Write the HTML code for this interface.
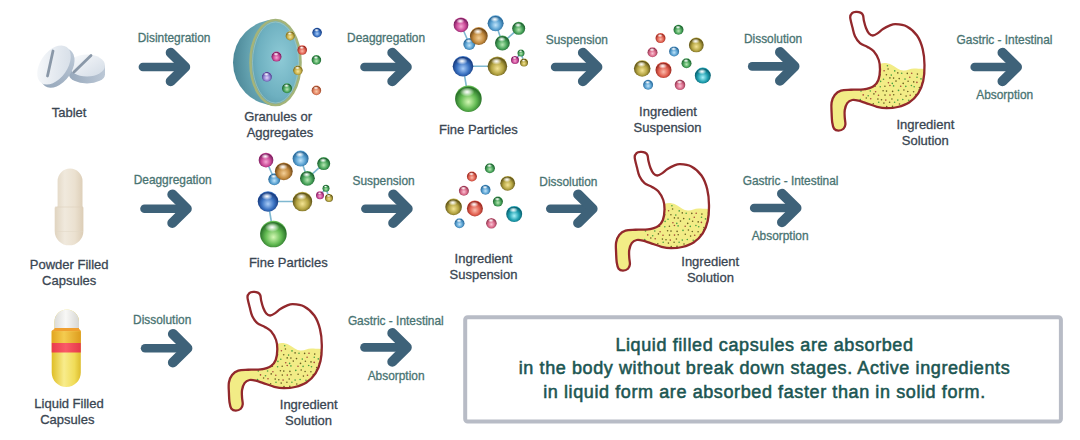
<!DOCTYPE html>
<html><head><meta charset="utf-8"><style>
html,body{margin:0;padding:0;background:#fff;width:1080px;height:440px;overflow:hidden}
svg{display:block}
text{font-family:"Liberation Sans",sans-serif}
.al{fill:#497472;stroke:#497472;stroke-width:0.3px;text-anchor:middle}
.lb{fill:#3a4652;stroke:#3a4652;stroke-width:0.3px;text-anchor:middle}
.bx{fill:#1c5652;stroke:#1c5652;stroke-width:0.55px;text-anchor:middle;font-size:18px;letter-spacing:0.6px}
</style></head><body>
<svg width="1080" height="440" viewBox="0 0 1080 440">
<defs>
<radialGradient id="g_mag" cx="0.5" cy="0.58" r="0.55" fx="0.5" fy="0.62"><stop offset="0" stop-color="#f4a8d4"/><stop offset="0.55" stop-color="#cc4a98"/><stop offset="0.92" stop-color="#7a2060"/><stop offset="1" stop-color="#cc4a98"/></radialGradient><radialGradient id="g_org" cx="0.5" cy="0.58" r="0.55" fx="0.5" fy="0.62"><stop offset="0" stop-color="#f4d098"/><stop offset="0.55" stop-color="#c48c40"/><stop offset="0.92" stop-color="#704818"/><stop offset="1" stop-color="#c48c40"/></radialGradient><radialGradient id="g_lbl" cx="0.5" cy="0.58" r="0.55" fx="0.5" fy="0.62"><stop offset="0" stop-color="#c0e4fa"/><stop offset="0.55" stop-color="#5aa2d2"/><stop offset="0.92" stop-color="#2a6898"/><stop offset="1" stop-color="#5aa2d2"/></radialGradient><radialGradient id="g_grn" cx="0.5" cy="0.58" r="0.55" fx="0.5" fy="0.62"><stop offset="0" stop-color="#b8e8b4"/><stop offset="0.55" stop-color="#48a45a"/><stop offset="0.92" stop-color="#1e6030"/><stop offset="1" stop-color="#48a45a"/></radialGradient><radialGradient id="g_oli" cx="0.5" cy="0.58" r="0.55" fx="0.5" fy="0.62"><stop offset="0" stop-color="#f4e494"/><stop offset="0.55" stop-color="#b4a442"/><stop offset="0.92" stop-color="#605418"/><stop offset="1" stop-color="#b4a442"/></radialGradient><radialGradient id="g_blu" cx="0.5" cy="0.58" r="0.55" fx="0.5" fy="0.62"><stop offset="0" stop-color="#a8ccf8"/><stop offset="0.55" stop-color="#3a72c2"/><stop offset="0.92" stop-color="#183c80"/><stop offset="1" stop-color="#3a72c2"/></radialGradient><radialGradient id="g_gbg" cx="0.5" cy="0.58" r="0.55" fx="0.5" fy="0.62"><stop offset="0" stop-color="#d4f8b4"/><stop offset="0.55" stop-color="#62ba52"/><stop offset="0.92" stop-color="#287028"/><stop offset="1" stop-color="#62ba52"/></radialGradient><radialGradient id="g_pnk" cx="0.5" cy="0.58" r="0.55" fx="0.5" fy="0.62"><stop offset="0" stop-color="#fac4d4"/><stop offset="0.55" stop-color="#da6a8a"/><stop offset="0.92" stop-color="#903850"/><stop offset="1" stop-color="#da6a8a"/></radialGradient><radialGradient id="g_red" cx="0.5" cy="0.58" r="0.55" fx="0.5" fy="0.62"><stop offset="0" stop-color="#fabcac"/><stop offset="0.55" stop-color="#e26252"/><stop offset="0.92" stop-color="#982820"/><stop offset="1" stop-color="#e26252"/></radialGradient><radialGradient id="g_tea" cx="0.5" cy="0.58" r="0.55" fx="0.5" fy="0.62"><stop offset="0" stop-color="#a8f2fa"/><stop offset="0.55" stop-color="#22a2b2"/><stop offset="0.92" stop-color="#086070"/><stop offset="1" stop-color="#22a2b2"/></radialGradient><radialGradient id="g_pur" cx="0.5" cy="0.58" r="0.55" fx="0.5" fy="0.62"><stop offset="0" stop-color="#e4d4fa"/><stop offset="0.55" stop-color="#9282d2"/><stop offset="0.92" stop-color="#504090"/><stop offset="1" stop-color="#9282d2"/></radialGradient><radialGradient id="g_ylw" cx="0.5" cy="0.58" r="0.55" fx="0.5" fy="0.62"><stop offset="0" stop-color="#f8e8a0"/><stop offset="0.55" stop-color="#c8b048"/><stop offset="0.92" stop-color="#7a6a20"/><stop offset="1" stop-color="#c8b048"/></radialGradient><radialGradient id="g_org2" cx="0.5" cy="0.58" r="0.55" fx="0.5" fy="0.62"><stop offset="0" stop-color="#facaa8"/><stop offset="0.55" stop-color="#e28262"/><stop offset="0.92" stop-color="#984828"/><stop offset="1" stop-color="#e28262"/></radialGradient><radialGradient id="hl" cx="0.5" cy="0.5" r="0.5"><stop offset="0" stop-color="#fff" stop-opacity="1"/><stop offset="0.35" stop-color="#fff" stop-opacity="0.7"/><stop offset="1" stop-color="#fff" stop-opacity="0"/></radialGradient>
<clipPath id="stclip"><path d="M19.20,5.20 C19.12,2.82 20.03,2.08 21.00,1.20 C21.97,0.32 23.58,-0.00 25.00,-0.10 C26.42,-0.20 28.33,0.05 29.50,0.60 C30.67,1.15 31.43,1.83 32.00,3.20 C32.57,4.57 32.40,6.67 32.90,8.80 C33.40,10.93 34.15,13.88 35.00,16.00 C35.85,18.12 36.87,20.25 38.00,21.50 C39.13,22.75 40.38,23.52 41.80,23.50 C43.22,23.48 44.80,22.48 46.50,21.40 C48.20,20.32 50.00,18.30 52.00,17.00 C54.00,15.70 56.42,14.42 58.50,13.60 C60.58,12.78 61.62,11.97 64.50,12.10 C67.38,12.23 72.22,12.50 75.80,14.40 C79.38,16.30 83.35,19.72 86.00,23.50 C88.65,27.28 90.45,32.18 91.70,37.10 C92.95,42.02 93.42,47.70 93.50,53.00 C93.58,58.30 93.25,64.17 92.20,68.90 C91.15,73.63 89.55,77.80 87.20,81.40 C84.85,85.00 81.52,88.23 78.10,90.50 C74.68,92.77 70.48,94.05 66.70,95.00 C62.92,95.95 58.85,96.23 55.40,96.20 C51.95,96.17 49.40,95.65 46.00,94.80 C42.60,93.95 38.08,92.13 35.00,91.10 C31.92,90.07 29.79,89.12 27.50,88.60 C25.21,88.08 23.12,87.58 21.25,88.00 C19.38,88.42 17.50,89.43 16.25,91.10 C15.00,92.77 14.17,95.60 13.75,98.00 C13.33,100.40 13.64,103.10 13.75,105.50 C13.86,107.90 14.61,110.53 14.40,112.40 C14.19,114.28 13.65,115.72 12.50,116.75 C11.35,117.78 9.07,118.60 7.50,118.60 C5.93,118.60 4.14,118.10 3.10,116.75 C2.06,115.40 1.67,113.21 1.25,110.50 C0.83,107.79 0.71,103.83 0.60,100.50 C0.49,97.17 0.07,93.42 0.60,90.50 C1.12,87.58 2.18,84.98 3.75,83.00 C5.32,81.02 7.29,79.47 10.00,78.60 C12.71,77.72 16.25,77.95 20.00,77.75 C23.75,77.55 28.75,77.98 32.50,77.40 C36.25,76.82 40.02,75.82 42.50,74.25 C44.98,72.68 46.32,70.79 47.40,68.00 C48.48,65.21 48.94,60.83 49.00,57.50 C49.06,54.17 48.79,51.04 47.75,48.00 C46.71,44.96 44.62,41.43 42.75,39.25 C40.88,37.07 38.79,36.26 36.50,34.90 C34.21,33.54 31.08,32.88 29.00,31.10 C26.92,29.33 25.25,26.85 24.00,24.25 C22.75,21.65 22.30,18.68 21.50,15.50 C20.70,12.32 19.28,7.58 19.20,5.20Z"/></clipPath>
<radialGradient id="domeg" cx="0.85" cy="0.45" r="0.95"><stop offset="0" stop-color="#8cc2cc"/><stop offset="0.55" stop-color="#62a0ae"/><stop offset="1" stop-color="#447f90"/></radialGradient>
<radialGradient id="faceg" cx="0.6" cy="0.45" r="0.65"><stop offset="0" stop-color="#8ecad6"/><stop offset="0.7" stop-color="#6eb0c0"/><stop offset="1" stop-color="#5a9aac"/></radialGradient>
<linearGradient id="tabface" x1="0" y1="0" x2="1" y2="1"><stop offset="0" stop-color="#fbfcfd"/><stop offset="0.5" stop-color="#e6ebf1"/><stop offset="1" stop-color="#d2dbe5"/></linearGradient><linearGradient id="tabband" x1="0" y1="0" x2="1" y2="0"><stop offset="0" stop-color="#98a9bc"/><stop offset="1" stop-color="#bcc8d6"/></linearGradient><linearGradient id="tabg" x1="0" y1="0" x2="1" y2="1"><stop offset="0" stop-color="#f4f6fa"/><stop offset="1" stop-color="#cdd6e2"/></linearGradient>
<linearGradient id="capg" x1="0" y1="0" x2="1" y2="0"><stop offset="0" stop-color="#e0d4c0"/><stop offset="0.35" stop-color="#f0e9dd"/><stop offset="0.7" stop-color="#ebe1d0"/><stop offset="1" stop-color="#dccdb6"/></linearGradient>
<linearGradient id="lqg" x1="0" y1="0" x2="1" y2="0"><stop offset="0" stop-color="#dcb818"/><stop offset="0.4" stop-color="#f8ec8c"/><stop offset="0.7" stop-color="#f0dc58"/><stop offset="1" stop-color="#d0a810"/></linearGradient><linearGradient id="lqor" x1="0" y1="0" x2="1" y2="0"><stop offset="0" stop-color="#e0a018"/><stop offset="0.4" stop-color="#f4cc50"/><stop offset="1" stop-color="#d89010"/></linearGradient><linearGradient id="lqred" x1="0" y1="0" x2="1" y2="0"><stop offset="0" stop-color="#e83848"/><stop offset="0.45" stop-color="#fa5a68"/><stop offset="1" stop-color="#e03040"/></linearGradient>
<linearGradient id="lqtop" x1="0" y1="0" x2="1" y2="0"><stop offset="0" stop-color="#d0d0cc"/><stop offset="0.45" stop-color="#f8f8f6"/><stop offset="1" stop-color="#c8c8c4"/></linearGradient>
<g id="stom"><path d="M19.20,5.20 C19.12,2.82 20.03,2.08 21.00,1.20 C21.97,0.32 23.58,-0.00 25.00,-0.10 C26.42,-0.20 28.33,0.05 29.50,0.60 C30.67,1.15 31.43,1.83 32.00,3.20 C32.57,4.57 32.40,6.67 32.90,8.80 C33.40,10.93 34.15,13.88 35.00,16.00 C35.85,18.12 36.87,20.25 38.00,21.50 C39.13,22.75 40.38,23.52 41.80,23.50 C43.22,23.48 44.80,22.48 46.50,21.40 C48.20,20.32 50.00,18.30 52.00,17.00 C54.00,15.70 56.42,14.42 58.50,13.60 C60.58,12.78 61.62,11.97 64.50,12.10 C67.38,12.23 72.22,12.50 75.80,14.40 C79.38,16.30 83.35,19.72 86.00,23.50 C88.65,27.28 90.45,32.18 91.70,37.10 C92.95,42.02 93.42,47.70 93.50,53.00 C93.58,58.30 93.25,64.17 92.20,68.90 C91.15,73.63 89.55,77.80 87.20,81.40 C84.85,85.00 81.52,88.23 78.10,90.50 C74.68,92.77 70.48,94.05 66.70,95.00 C62.92,95.95 58.85,96.23 55.40,96.20 C51.95,96.17 49.40,95.65 46.00,94.80 C42.60,93.95 38.08,92.13 35.00,91.10 C31.92,90.07 29.79,89.12 27.50,88.60 C25.21,88.08 23.12,87.58 21.25,88.00 C19.38,88.42 17.50,89.43 16.25,91.10 C15.00,92.77 14.17,95.60 13.75,98.00 C13.33,100.40 13.64,103.10 13.75,105.50 C13.86,107.90 14.61,110.53 14.40,112.40 C14.19,114.28 13.65,115.72 12.50,116.75 C11.35,117.78 9.07,118.60 7.50,118.60 C5.93,118.60 4.14,118.10 3.10,116.75 C2.06,115.40 1.67,113.21 1.25,110.50 C0.83,107.79 0.71,103.83 0.60,100.50 C0.49,97.17 0.07,93.42 0.60,90.50 C1.12,87.58 2.18,84.98 3.75,83.00 C5.32,81.02 7.29,79.47 10.00,78.60 C12.71,77.72 16.25,77.95 20.00,77.75 C23.75,77.55 28.75,77.98 32.50,77.40 C36.25,76.82 40.02,75.82 42.50,74.25 C44.98,72.68 46.32,70.79 47.40,68.00 C48.48,65.21 48.94,60.83 49.00,57.50 C49.06,54.17 48.79,51.04 47.75,48.00 C46.71,44.96 44.62,41.43 42.75,39.25 C40.88,37.07 38.79,36.26 36.50,34.90 C34.21,33.54 31.08,32.88 29.00,31.10 C26.92,29.33 25.25,26.85 24.00,24.25 C22.75,21.65 22.30,18.68 21.50,15.50 C20.70,12.32 19.28,7.58 19.20,5.20Z" fill="#fff"/><g clip-path="url(#stclip)"><path d="M-5,52 L49,52 C52,50.5 56,50.5 60,52.5 C65,55 68,58.5 72.5,58.5 C77,58.5 79,56.5 83,56.5 C87,56.5 90,57 100,57 L100,130 L-5,130 Z" fill="#f2ec86"/><circle cx="29.9" cy="53.6" r="0.8" fill="#48a040"/><circle cx="35.1" cy="54.4" r="0.8" fill="#6a6020"/><circle cx="39.5" cy="53.5" r="0.8" fill="#a84838"/><circle cx="56.4" cy="53.7" r="0.8" fill="#48a040"/><circle cx="32.3" cy="57.8" r="0.8" fill="#6a6020"/><circle cx="38.4" cy="57.3" r="0.8" fill="#6a6020"/><circle cx="43.0" cy="56.6" r="0.8" fill="#48a040"/><circle cx="49.0" cy="57.5" r="0.8" fill="#6a6020"/><circle cx="53.1" cy="58.8" r="0.8" fill="#a84838"/><circle cx="57.1" cy="57.0" r="0.8" fill="#6a6020"/><circle cx="63.7" cy="58.9" r="0.8" fill="#48a040"/><circle cx="30.9" cy="61.1" r="0.8" fill="#48a040"/><circle cx="34.3" cy="61.9" r="0.8" fill="#a84838"/><circle cx="41.2" cy="61.7" r="0.8" fill="#48a040"/><circle cx="44.4" cy="61.7" r="0.8" fill="#6a6020"/><circle cx="49.3" cy="62.8" r="0.8" fill="#48a040"/><circle cx="55.4" cy="62.8" r="0.8" fill="#6a6020"/><circle cx="60.3" cy="63.1" r="0.8" fill="#48a040"/><circle cx="66.8" cy="60.9" r="0.8" fill="#6a6020"/><circle cx="70.7" cy="61.3" r="0.8" fill="#48a040"/><circle cx="76.3" cy="61.4" r="0.8" fill="#6a6020"/><circle cx="80.7" cy="61.2" r="0.8" fill="#a84838"/><circle cx="86.4" cy="62.1" r="0.8" fill="#6a6020"/><circle cx="92.8" cy="61.0" r="0.8" fill="#48a040"/><circle cx="32.6" cy="66.3" r="0.8" fill="#48a040"/><circle cx="36.8" cy="65.3" r="0.8" fill="#6a6020"/><circle cx="44.0" cy="65.5" r="0.8" fill="#6a6020"/><circle cx="47.2" cy="66.4" r="0.8" fill="#48a040"/><circle cx="52.5" cy="67.2" r="0.8" fill="#48a040"/><circle cx="58.9" cy="65.9" r="0.8" fill="#6a6020"/><circle cx="62.6" cy="66.1" r="0.8" fill="#6a6020"/><circle cx="68.2" cy="66.6" r="0.8" fill="#6a6020"/><circle cx="74.0" cy="67.1" r="0.8" fill="#48a040"/><circle cx="78.8" cy="65.3" r="0.8" fill="#a84838"/><circle cx="86.0" cy="65.2" r="0.8" fill="#48a040"/><circle cx="90.0" cy="66.9" r="0.8" fill="#48a040"/><circle cx="28.7" cy="69.6" r="0.8" fill="#6a6020"/><circle cx="35.9" cy="69.3" r="0.8" fill="#48a040"/><circle cx="40.2" cy="69.2" r="0.8" fill="#6a6020"/><circle cx="44.9" cy="70.4" r="0.8" fill="#6a6020"/><circle cx="49.6" cy="69.4" r="0.8" fill="#48a040"/><circle cx="57.4" cy="70.7" r="0.8" fill="#a84838"/><circle cx="61.3" cy="71.4" r="0.8" fill="#48a040"/><circle cx="65.0" cy="69.1" r="0.8" fill="#6a6020"/><circle cx="72.2" cy="71.4" r="0.8" fill="#6a6020"/><circle cx="77.1" cy="69.3" r="0.8" fill="#6a6020"/><circle cx="82.7" cy="69.9" r="0.8" fill="#6a6020"/><circle cx="85.9" cy="70.4" r="0.8" fill="#a84838"/><circle cx="91.0" cy="71.3" r="0.8" fill="#a84838"/><circle cx="33.2" cy="75.2" r="0.8" fill="#6a6020"/><circle cx="37.4" cy="74.9" r="0.8" fill="#6a6020"/><circle cx="44.1" cy="74.3" r="0.8" fill="#6a6020"/><circle cx="49.3" cy="74.7" r="0.8" fill="#48a040"/><circle cx="53.9" cy="74.2" r="0.8" fill="#6a6020"/><circle cx="58.9" cy="73.5" r="0.8" fill="#a84838"/><circle cx="62.6" cy="73.9" r="0.8" fill="#48a040"/><circle cx="69.7" cy="74.2" r="0.8" fill="#a84838"/><circle cx="74.8" cy="74.4" r="0.8" fill="#48a040"/><circle cx="80.4" cy="73.5" r="0.8" fill="#48a040"/><circle cx="83.2" cy="74.7" r="0.8" fill="#48a040"/><circle cx="88.4" cy="75.6" r="0.8" fill="#6a6020"/><circle cx="30.0" cy="79.0" r="0.8" fill="#48a040"/><circle cx="34.5" cy="77.5" r="0.8" fill="#6a6020"/><circle cx="39.3" cy="79.0" r="0.8" fill="#48a040"/><circle cx="44.6" cy="79.7" r="0.8" fill="#a84838"/><circle cx="52.1" cy="78.7" r="0.8" fill="#6a6020"/><circle cx="55.5" cy="79.1" r="0.8" fill="#6a6020"/><circle cx="61.6" cy="79.4" r="0.8" fill="#6a6020"/><circle cx="67.5" cy="78.4" r="0.8" fill="#48a040"/><circle cx="72.9" cy="78.0" r="0.8" fill="#6a6020"/><circle cx="76.8" cy="79.5" r="0.8" fill="#6a6020"/><circle cx="82.6" cy="79.8" r="0.8" fill="#6a6020"/><circle cx="88.2" cy="77.8" r="0.8" fill="#48a040"/><circle cx="91.7" cy="78.0" r="0.8" fill="#48a040"/><circle cx="32.2" cy="82.9" r="0.8" fill="#a84838"/><circle cx="37.2" cy="83.7" r="0.8" fill="#48a040"/><circle cx="42.9" cy="81.9" r="0.8" fill="#6a6020"/><circle cx="47.5" cy="83.2" r="0.8" fill="#a84838"/><circle cx="54.0" cy="83.1" r="0.8" fill="#6a6020"/><circle cx="59.0" cy="83.1" r="0.8" fill="#a84838"/><circle cx="62.7" cy="82.8" r="0.8" fill="#6a6020"/><circle cx="69.8" cy="82.3" r="0.8" fill="#6a6020"/><circle cx="75.1" cy="84.1" r="0.8" fill="#6a6020"/><circle cx="79.2" cy="83.2" r="0.8" fill="#a84838"/><circle cx="85.0" cy="82.6" r="0.8" fill="#6a6020"/><circle cx="90.4" cy="82.2" r="0.8" fill="#48a040"/><circle cx="29.3" cy="87.6" r="0.8" fill="#48a040"/><circle cx="35.3" cy="86.0" r="0.8" fill="#6a6020"/><circle cx="39.7" cy="86.7" r="0.8" fill="#a84838"/><circle cx="46.9" cy="87.1" r="0.8" fill="#6a6020"/><circle cx="50.5" cy="87.8" r="0.8" fill="#6a6020"/><circle cx="54.8" cy="88.1" r="0.8" fill="#a84838"/><circle cx="60.9" cy="87.0" r="0.8" fill="#6a6020"/><circle cx="66.8" cy="88.1" r="0.8" fill="#48a040"/><circle cx="71.8" cy="87.5" r="0.8" fill="#48a040"/><circle cx="77.7" cy="88.2" r="0.8" fill="#48a040"/><circle cx="81.5" cy="88.3" r="0.8" fill="#6a6020"/><circle cx="87.9" cy="87.9" r="0.8" fill="#a84838"/><circle cx="93.7" cy="86.2" r="0.8" fill="#6a6020"/><circle cx="33.8" cy="92.5" r="0.8" fill="#6a6020"/><circle cx="37.9" cy="92.0" r="0.8" fill="#6a6020"/><circle cx="42.3" cy="91.8" r="0.8" fill="#6a6020"/><circle cx="47.7" cy="90.3" r="0.8" fill="#48a040"/><circle cx="52.9" cy="91.1" r="0.8" fill="#6a6020"/><circle cx="58.6" cy="90.2" r="0.8" fill="#6a6020"/><circle cx="63.6" cy="90.2" r="0.8" fill="#48a040"/><circle cx="68.5" cy="92.0" r="0.8" fill="#6a6020"/><circle cx="74.1" cy="92.5" r="0.8" fill="#a84838"/><circle cx="79.5" cy="91.7" r="0.8" fill="#48a040"/><circle cx="85.9" cy="91.3" r="0.8" fill="#a84838"/><circle cx="88.6" cy="90.6" r="0.8" fill="#48a040"/><circle cx="30.2" cy="96.3" r="0.8" fill="#48a040"/><circle cx="35.6" cy="95.6" r="0.8" fill="#48a040"/><circle cx="39.7" cy="95.9" r="0.8" fill="#48a040"/><circle cx="44.7" cy="96.3" r="0.8" fill="#48a040"/><circle cx="50.9" cy="95.7" r="0.8" fill="#6a6020"/><circle cx="55.7" cy="94.6" r="0.8" fill="#6a6020"/><circle cx="61.5" cy="94.4" r="0.8" fill="#6a6020"/><circle cx="66.4" cy="95.3" r="0.8" fill="#48a040"/><circle cx="70.5" cy="94.5" r="0.8" fill="#6a6020"/><circle cx="75.5" cy="95.6" r="0.8" fill="#48a040"/><circle cx="83.3" cy="96.2" r="0.8" fill="#48a040"/><circle cx="86.5" cy="95.4" r="0.8" fill="#6a6020"/><circle cx="91.9" cy="96.5" r="0.8" fill="#48a040"/><circle cx="32.7" cy="98.8" r="0.8" fill="#48a040"/><circle cx="38.2" cy="100.7" r="0.8" fill="#6a6020"/><circle cx="43.6" cy="100.8" r="0.8" fill="#6a6020"/><circle cx="47.3" cy="99.0" r="0.8" fill="#a84838"/><circle cx="52.8" cy="100.2" r="0.8" fill="#6a6020"/><circle cx="59.0" cy="98.8" r="0.8" fill="#a84838"/><circle cx="64.0" cy="100.5" r="0.8" fill="#48a040"/><circle cx="68.3" cy="99.0" r="0.8" fill="#48a040"/><circle cx="75.3" cy="98.6" r="0.8" fill="#a84838"/><circle cx="79.1" cy="99.8" r="0.8" fill="#6a6020"/><circle cx="84.7" cy="100.6" r="0.8" fill="#48a040"/><circle cx="90.2" cy="99.8" r="0.8" fill="#48a040"/></g><path d="M19.20,5.20 C19.12,2.82 20.03,2.08 21.00,1.20 C21.97,0.32 23.58,-0.00 25.00,-0.10 C26.42,-0.20 28.33,0.05 29.50,0.60 C30.67,1.15 31.43,1.83 32.00,3.20 C32.57,4.57 32.40,6.67 32.90,8.80 C33.40,10.93 34.15,13.88 35.00,16.00 C35.85,18.12 36.87,20.25 38.00,21.50 C39.13,22.75 40.38,23.52 41.80,23.50 C43.22,23.48 44.80,22.48 46.50,21.40 C48.20,20.32 50.00,18.30 52.00,17.00 C54.00,15.70 56.42,14.42 58.50,13.60 C60.58,12.78 61.62,11.97 64.50,12.10 C67.38,12.23 72.22,12.50 75.80,14.40 C79.38,16.30 83.35,19.72 86.00,23.50 C88.65,27.28 90.45,32.18 91.70,37.10 C92.95,42.02 93.42,47.70 93.50,53.00 C93.58,58.30 93.25,64.17 92.20,68.90 C91.15,73.63 89.55,77.80 87.20,81.40 C84.85,85.00 81.52,88.23 78.10,90.50 C74.68,92.77 70.48,94.05 66.70,95.00 C62.92,95.95 58.85,96.23 55.40,96.20 C51.95,96.17 49.40,95.65 46.00,94.80 C42.60,93.95 38.08,92.13 35.00,91.10 C31.92,90.07 29.79,89.12 27.50,88.60 C25.21,88.08 23.12,87.58 21.25,88.00 C19.38,88.42 17.50,89.43 16.25,91.10 C15.00,92.77 14.17,95.60 13.75,98.00 C13.33,100.40 13.64,103.10 13.75,105.50 C13.86,107.90 14.61,110.53 14.40,112.40 C14.19,114.28 13.65,115.72 12.50,116.75 C11.35,117.78 9.07,118.60 7.50,118.60 C5.93,118.60 4.14,118.10 3.10,116.75 C2.06,115.40 1.67,113.21 1.25,110.50 C0.83,107.79 0.71,103.83 0.60,100.50 C0.49,97.17 0.07,93.42 0.60,90.50 C1.12,87.58 2.18,84.98 3.75,83.00 C5.32,81.02 7.29,79.47 10.00,78.60 C12.71,77.72 16.25,77.95 20.00,77.75 C23.75,77.55 28.75,77.98 32.50,77.40 C36.25,76.82 40.02,75.82 42.50,74.25 C44.98,72.68 46.32,70.79 47.40,68.00 C48.48,65.21 48.94,60.83 49.00,57.50 C49.06,54.17 48.79,51.04 47.75,48.00 C46.71,44.96 44.62,41.43 42.75,39.25 C40.88,37.07 38.79,36.26 36.50,34.90 C34.21,33.54 31.08,32.88 29.00,31.10 C26.92,29.33 25.25,26.85 24.00,24.25 C22.75,21.65 22.30,18.68 21.50,15.50 C20.70,12.32 19.28,7.58 19.20,5.20Z" fill="none" stroke="#92282c" stroke-width="2.3" stroke-linejoin="round"/></g>
<filter id="fat2" x="-5%" y="-20%" width="110%" height="140%"><feGaussianBlur stdDeviation="0.45"/><feComponentTransfer><feFuncA type="linear" slope="1.9"/></feComponentTransfer></filter><filter id="fat" x="-5%" y="-20%" width="110%" height="140%"><feGaussianBlur stdDeviation="0.3"/><feComponentTransfer><feFuncA type="linear" slope="1.5"/></feComponentTransfer></filter>
</defs>
<g><path d="M69,65.5 L69,74.5 A18,9 0 0 0 105,74.5 L105,65.5 Z" fill="url(#tabband)"/><ellipse cx="87" cy="65.5" rx="18" ry="11" fill="url(#tabface)"/><line x1="91" y1="55.5" x2="74" y2="72" stroke="#8a98a8" stroke-width="2.8" stroke-linecap="round"/><ellipse cx="57.5" cy="68" rx="22" ry="14" transform="rotate(-55 57.5 68)" fill="url(#tabband)"/><ellipse cx="54" cy="65" rx="22" ry="13.5" transform="rotate(-55 54 65)" fill="url(#tabface)"/><line x1="53" y1="51" x2="47.5" y2="76" stroke="#8a98a8" stroke-width="2.8" stroke-linecap="round"/></g>
<g><path d="M276,19.5 A43,43 0 0 0 276,105.5 Z" fill="url(#domeg)"/><ellipse cx="275.5" cy="62.5" rx="25" ry="42.5" fill="url(#faceg)" stroke="#a4b47a" stroke-width="2.6"/><ellipse cx="275.5" cy="62.5" rx="23" ry="40.5" fill="none" stroke="#b4d0c4" stroke-width="0.8" opacity="0.7"/><circle cx="290.2" cy="35.8" r="4.6" fill="url(#g_ylw)"/><ellipse cx="289.7" cy="33.5" rx="2.5" ry="1.6" fill="url(#hl)"/><circle cx="276.5" cy="56.6" r="5.0" fill="url(#g_mag)"/><ellipse cx="276.0" cy="54.1" rx="2.8" ry="1.8" fill="url(#hl)"/><circle cx="302.2" cy="50.0" r="4.8" fill="url(#g_red)"/><ellipse cx="301.7" cy="47.6" rx="2.6" ry="1.7" fill="url(#hl)"/><circle cx="266.9" cy="76.7" r="5.0" fill="url(#g_pur)"/><ellipse cx="266.4" cy="74.2" rx="2.8" ry="1.8" fill="url(#hl)"/><circle cx="297.9" cy="70.3" r="4.8" fill="url(#g_ylw)"/><ellipse cx="297.4" cy="67.9" rx="2.6" ry="1.7" fill="url(#hl)"/><circle cx="287.0" cy="88.2" r="5.0" fill="url(#g_grn)"/><ellipse cx="286.5" cy="85.7" rx="2.8" ry="1.8" fill="url(#hl)"/><circle cx="317.1" cy="32.6" r="4.8" fill="url(#g_blu)"/><ellipse cx="316.6" cy="30.2" rx="2.6" ry="1.7" fill="url(#hl)"/><circle cx="316.4" cy="59.9" r="4.8" fill="url(#g_grn)"/><ellipse cx="315.9" cy="57.5" rx="2.6" ry="1.7" fill="url(#hl)"/><circle cx="316.4" cy="90.4" r="4.8" fill="url(#g_org2)"/><ellipse cx="315.9" cy="88.0" rx="2.6" ry="1.7" fill="url(#hl)"/></g>
<g stroke="#7fb8d0" stroke-width="1.6"><line x1="461" y1="24.8" x2="469.3" y2="44"/><line x1="495.6" y1="23.3" x2="502.4" y2="43"/><line x1="502.4" y1="43" x2="518.7" y2="28.3"/><line x1="463" y1="66.2" x2="497.4" y2="66.2"/><line x1="463" y1="66.2" x2="468.4" y2="98.7"/><line x1="521" y1="53" x2="515" y2="60"/><line x1="521" y1="53" x2="524" y2="62.6"/></g><circle cx="469.3" cy="44.0" r="6.0" fill="url(#g_lbl)"/><ellipse cx="468.7" cy="41.0" rx="3.3" ry="2.1" fill="url(#hl)"/><circle cx="461.0" cy="24.8" r="7.4" fill="url(#g_mag)"/><ellipse cx="460.3" cy="21.1" rx="4.1" ry="2.6" fill="url(#hl)"/><circle cx="478.8" cy="36.0" r="8.9" fill="url(#g_org)"/><ellipse cx="477.9" cy="31.6" rx="4.9" ry="3.1" fill="url(#hl)"/><circle cx="495.6" cy="23.3" r="8.0" fill="url(#g_lbl)"/><ellipse cx="494.8" cy="19.3" rx="4.4" ry="2.8" fill="url(#hl)"/><circle cx="518.7" cy="28.3" r="6.5" fill="url(#g_grn)"/><ellipse cx="518.1" cy="25.1" rx="3.6" ry="2.3" fill="url(#hl)"/><circle cx="502.4" cy="43.0" r="7.4" fill="url(#g_grn)"/><ellipse cx="501.7" cy="39.3" rx="4.1" ry="2.6" fill="url(#hl)"/><circle cx="521.0" cy="53.0" r="3.5" fill="url(#g_grn)"/><ellipse cx="520.6" cy="51.2" rx="1.9" ry="1.2" fill="url(#hl)"/><circle cx="515.0" cy="60.0" r="4.0" fill="url(#g_mag)"/><ellipse cx="514.6" cy="58.0" rx="2.2" ry="1.4" fill="url(#hl)"/><circle cx="524.0" cy="62.6" r="4.0" fill="url(#g_oli)"/><ellipse cx="523.6" cy="60.6" rx="2.2" ry="1.4" fill="url(#hl)"/><circle cx="497.4" cy="66.2" r="9.8" fill="url(#g_oli)"/><ellipse cx="496.4" cy="61.3" rx="5.4" ry="3.4" fill="url(#hl)"/><circle cx="463.0" cy="66.2" r="10.3" fill="url(#g_blu)"/><ellipse cx="462.0" cy="61.1" rx="5.7" ry="3.6" fill="url(#hl)"/><circle cx="468.4" cy="98.7" r="13.3" fill="url(#g_gbg)"/><ellipse cx="467.1" cy="92.0" rx="7.3" ry="4.7" fill="url(#hl)"/>
<g transform="translate(-195,135.3)"><g stroke="#7fb8d0" stroke-width="1.6"><line x1="461" y1="24.8" x2="469.3" y2="44"/><line x1="495.6" y1="23.3" x2="502.4" y2="43"/><line x1="502.4" y1="43" x2="518.7" y2="28.3"/><line x1="463" y1="66.2" x2="497.4" y2="66.2"/><line x1="463" y1="66.2" x2="468.4" y2="98.7"/><line x1="521" y1="53" x2="515" y2="60"/><line x1="521" y1="53" x2="524" y2="62.6"/></g><circle cx="469.3" cy="44.0" r="6.0" fill="url(#g_lbl)"/><ellipse cx="468.7" cy="41.0" rx="3.3" ry="2.1" fill="url(#hl)"/><circle cx="461.0" cy="24.8" r="7.4" fill="url(#g_mag)"/><ellipse cx="460.3" cy="21.1" rx="4.1" ry="2.6" fill="url(#hl)"/><circle cx="478.8" cy="36.0" r="8.9" fill="url(#g_org)"/><ellipse cx="477.9" cy="31.6" rx="4.9" ry="3.1" fill="url(#hl)"/><circle cx="495.6" cy="23.3" r="8.0" fill="url(#g_lbl)"/><ellipse cx="494.8" cy="19.3" rx="4.4" ry="2.8" fill="url(#hl)"/><circle cx="518.7" cy="28.3" r="6.5" fill="url(#g_grn)"/><ellipse cx="518.1" cy="25.1" rx="3.6" ry="2.3" fill="url(#hl)"/><circle cx="502.4" cy="43.0" r="7.4" fill="url(#g_grn)"/><ellipse cx="501.7" cy="39.3" rx="4.1" ry="2.6" fill="url(#hl)"/><circle cx="521.0" cy="53.0" r="3.5" fill="url(#g_grn)"/><ellipse cx="520.6" cy="51.2" rx="1.9" ry="1.2" fill="url(#hl)"/><circle cx="515.0" cy="60.0" r="4.0" fill="url(#g_mag)"/><ellipse cx="514.6" cy="58.0" rx="2.2" ry="1.4" fill="url(#hl)"/><circle cx="524.0" cy="62.6" r="4.0" fill="url(#g_oli)"/><ellipse cx="523.6" cy="60.6" rx="2.2" ry="1.4" fill="url(#hl)"/><circle cx="497.4" cy="66.2" r="9.8" fill="url(#g_oli)"/><ellipse cx="496.4" cy="61.3" rx="5.4" ry="3.4" fill="url(#hl)"/><circle cx="463.0" cy="66.2" r="10.3" fill="url(#g_blu)"/><ellipse cx="462.0" cy="61.1" rx="5.7" ry="3.6" fill="url(#hl)"/><circle cx="468.4" cy="98.7" r="13.3" fill="url(#g_gbg)"/><ellipse cx="467.1" cy="92.0" rx="7.3" ry="4.7" fill="url(#hl)"/></g>
<circle cx="678.5" cy="29.8" r="5.0" fill="url(#g_grn)"/><ellipse cx="678.0" cy="27.3" rx="2.8" ry="1.8" fill="url(#hl)"/><circle cx="660.5" cy="38.1" r="5.0" fill="url(#g_red)"/><ellipse cx="660.0" cy="35.6" rx="2.8" ry="1.8" fill="url(#hl)"/><circle cx="696.3" cy="44.9" r="7.4" fill="url(#g_oli)"/><ellipse cx="695.6" cy="41.2" rx="4.1" ry="2.6" fill="url(#hl)"/><circle cx="652.5" cy="52.3" r="5.0" fill="url(#g_pnk)"/><ellipse cx="652.0" cy="49.8" rx="2.8" ry="1.8" fill="url(#hl)"/><circle cx="674.1" cy="51.4" r="5.0" fill="url(#g_lbl)"/><ellipse cx="673.6" cy="48.9" rx="2.8" ry="1.8" fill="url(#hl)"/><circle cx="686.5" cy="63.2" r="5.0" fill="url(#g_grn)"/><ellipse cx="686.0" cy="60.7" rx="2.8" ry="1.8" fill="url(#hl)"/><circle cx="642.2" cy="68.5" r="8.3" fill="url(#g_oli)"/><ellipse cx="641.4" cy="64.3" rx="4.6" ry="2.9" fill="url(#hl)"/><circle cx="663.5" cy="70.0" r="8.0" fill="url(#g_red)"/><ellipse cx="662.7" cy="66.0" rx="4.4" ry="2.8" fill="url(#hl)"/><circle cx="702.8" cy="75.6" r="8.0" fill="url(#g_tea)"/><ellipse cx="702.0" cy="71.6" rx="4.4" ry="2.8" fill="url(#hl)"/><circle cx="648.1" cy="84.8" r="5.0" fill="url(#g_lbl)"/><ellipse cx="647.6" cy="82.3" rx="2.8" ry="1.8" fill="url(#hl)"/><circle cx="680.0" cy="84.8" r="5.3" fill="url(#g_pnk)"/><ellipse cx="679.5" cy="82.1" rx="2.9" ry="1.9" fill="url(#hl)"/>
<g transform="translate(-188.6,138.4)"><circle cx="678.5" cy="29.8" r="5.0" fill="url(#g_grn)"/><ellipse cx="678.0" cy="27.3" rx="2.8" ry="1.8" fill="url(#hl)"/><circle cx="660.5" cy="38.1" r="5.0" fill="url(#g_red)"/><ellipse cx="660.0" cy="35.6" rx="2.8" ry="1.8" fill="url(#hl)"/><circle cx="696.3" cy="44.9" r="7.4" fill="url(#g_oli)"/><ellipse cx="695.6" cy="41.2" rx="4.1" ry="2.6" fill="url(#hl)"/><circle cx="652.5" cy="52.3" r="5.0" fill="url(#g_pnk)"/><ellipse cx="652.0" cy="49.8" rx="2.8" ry="1.8" fill="url(#hl)"/><circle cx="674.1" cy="51.4" r="5.0" fill="url(#g_lbl)"/><ellipse cx="673.6" cy="48.9" rx="2.8" ry="1.8" fill="url(#hl)"/><circle cx="686.5" cy="63.2" r="5.0" fill="url(#g_grn)"/><ellipse cx="686.0" cy="60.7" rx="2.8" ry="1.8" fill="url(#hl)"/><circle cx="642.2" cy="68.5" r="8.3" fill="url(#g_oli)"/><ellipse cx="641.4" cy="64.3" rx="4.6" ry="2.9" fill="url(#hl)"/><circle cx="663.5" cy="70.0" r="8.0" fill="url(#g_red)"/><ellipse cx="662.7" cy="66.0" rx="4.4" ry="2.8" fill="url(#hl)"/><circle cx="702.8" cy="75.6" r="8.0" fill="url(#g_tea)"/><ellipse cx="702.0" cy="71.6" rx="4.4" ry="2.8" fill="url(#hl)"/><circle cx="648.1" cy="84.8" r="5.0" fill="url(#g_lbl)"/><ellipse cx="647.6" cy="82.3" rx="2.8" ry="1.8" fill="url(#hl)"/><circle cx="680.0" cy="84.8" r="5.3" fill="url(#g_pnk)"/><ellipse cx="679.5" cy="82.1" rx="2.9" ry="1.9" fill="url(#hl)"/></g>
<use href="#stom" x="831" y="12"/>
<use href="#stom" x="615.5" y="152"/>
<use href="#stom" x="228.3" y="292"/>
<g><path d="M54.7,207.5 L57.6,206.5 L57.6,181 A12.45,12.45 0 0 1 82.5,181 L82.5,206.5 L83.4,207.5 L83.4,231 A14.35,14.35 0 0 1 54.7,231 Z" fill="url(#capg)"/><line x1="55" y1="207" x2="83" y2="207" stroke="#ddd2be" stroke-width="0.6"/><line x1="55" y1="231.5" x2="83" y2="231.5" stroke="#e0d6c4" stroke-width="0.5"/></g>
<g><clipPath id="lqclip"><path d="M51.7,331 L54.5,329 L54.5,321.7 A12.25,12.25 0 0 1 79,321.7 L79,329 L80.8,331 L80.8,372.5 A14.55,14.55 0 0 1 51.7,372.5 Z"/></clipPath><g clip-path="url(#lqclip)"><rect x="50" y="300" width="35" height="95" fill="url(#lqg)"/><rect x="50" y="300" width="35" height="28.5" fill="url(#lqtop)"/><rect x="50" y="328" width="35" height="3.5" fill="#f0a030"/><rect x="50" y="331.5" width="35" height="11.5" fill="url(#lqor)"/><rect x="50" y="343" width="35" height="9.5" fill="url(#lqred)"/></g></g>
<g stroke="#3e6279" stroke-linecap="round" stroke-linejoin="round" fill="none"><g transform="translate(190.2,67.0)"><line x1="-47.3" y1="0" x2="-6" y2="0" stroke-width="8.6"/><polyline points="-19.5,-14.3 -5,0 -19.5,14.3" fill="none" stroke-width="10"/></g><g transform="translate(411.8,67.0)"><line x1="-47.3" y1="0" x2="-6" y2="0" stroke-width="8.6"/><polyline points="-19.5,-14.3 -5,0 -19.5,14.3" fill="none" stroke-width="10"/></g><g transform="translate(602.4,67.0)"><line x1="-47.3" y1="0" x2="-6" y2="0" stroke-width="8.6"/><polyline points="-19.5,-14.3 -5,0 -19.5,14.3" fill="none" stroke-width="10"/></g><g transform="translate(799.5,66.4)"><line x1="-47.3" y1="0" x2="-6" y2="0" stroke-width="8.6"/><polyline points="-19.5,-14.3 -5,0 -19.5,14.3" fill="none" stroke-width="10"/></g><g transform="translate(1022.0,67.0)"><line x1="-47.3" y1="0" x2="-6" y2="0" stroke-width="8.6"/><polyline points="-19.5,-14.3 -5,0 -19.5,14.3" fill="none" stroke-width="10"/></g><g transform="translate(191.8,208.7)"><line x1="-47.3" y1="0" x2="-6" y2="0" stroke-width="8.6"/><polyline points="-19.5,-14.3 -5,0 -19.5,14.3" fill="none" stroke-width="10"/></g><g transform="translate(412.7,208.7)"><line x1="-47.3" y1="0" x2="-6" y2="0" stroke-width="8.6"/><polyline points="-19.5,-14.3 -5,0 -19.5,14.3" fill="none" stroke-width="10"/></g><g transform="translate(597.6,208.7)"><line x1="-47.3" y1="0" x2="-6" y2="0" stroke-width="8.6"/><polyline points="-19.5,-14.3 -5,0 -19.5,14.3" fill="none" stroke-width="10"/></g><g transform="translate(801.5,208.0)"><line x1="-47.3" y1="0" x2="-6" y2="0" stroke-width="8.6"/><polyline points="-19.5,-14.3 -5,0 -19.5,14.3" fill="none" stroke-width="10"/></g><g transform="translate(192.4,348.2)"><line x1="-47.3" y1="0" x2="-6" y2="0" stroke-width="8.6"/><polyline points="-19.5,-14.3 -5,0 -19.5,14.3" fill="none" stroke-width="10"/></g><g transform="translate(411.8,347.4)"><line x1="-47.3" y1="0" x2="-6" y2="0" stroke-width="8.6"/><polyline points="-19.5,-14.3 -5,0 -19.5,14.3" fill="none" stroke-width="10"/></g></g>
<text x="174.1" y="42.0" class="al" font-size="11.90">Disintegration</text><text x="386.1" y="41.8" class="al" font-size="11.90">Deaggregation</text><text x="576.9" y="43.6" class="al" font-size="11.90">Suspension</text><text x="773.1" y="43.3" class="al" font-size="11.90">Dissolution</text><text x="1004.5" y="44.1" class="al" font-size="11.90">Gastric - Intestinal</text><text x="1004.7" y="98.7" class="al" font-size="11.90">Absorption</text><text x="172.7" y="183.6" class="al" font-size="11.90">Deaggregation</text><text x="383.6" y="184.5" class="al" font-size="11.90">Suspension</text><text x="568.4" y="185.5" class="al" font-size="11.90">Dissolution</text><text x="790.6" y="185.0" class="al" font-size="11.90">Gastric - Intestinal</text><text x="780.1" y="240.1" class="al" font-size="11.90">Absorption</text><text x="162.2" y="324.2" class="al" font-size="11.90">Dissolution</text><text x="395.8" y="324.5" class="al" font-size="11.90">Gastric - Intestinal</text><text x="396.1" y="380.1" class="al" font-size="11.90">Absorption</text><text x="69.1" y="116.9" class="lb" font-size="13.00">Tablet</text><text x="278.1" y="120.8" class="lb" font-size="13.00">Granules or</text><text x="279.9" y="137.1" class="lb" font-size="13.00">Aggregates</text><text x="478.4" y="134.0" class="lb" font-size="13.00">Fine Particles</text><text x="668.0" y="116.4" class="lb" font-size="13.00">Ingredient</text><text x="667.5" y="132.0" class="lb" font-size="13.00">Suspension</text><text x="925.4" y="128.8" class="lb" font-size="13.00">Ingredient</text><text x="925.3" y="144.8" class="lb" font-size="13.00">Solution</text><text x="69.2" y="269.0" class="lb" font-size="13.00">Powder Filled</text><text x="69.2" y="284.5" class="lb" font-size="13.00">Capsules</text><text x="288.3" y="267.3" class="lb" font-size="13.00">Fine Particles</text><text x="483.5" y="263.2" class="lb" font-size="13.00">Ingredient</text><text x="483.5" y="279.1" class="lb" font-size="13.00">Suspension</text><text x="710.2" y="266.2" class="lb" font-size="13.00">Ingredient</text><text x="710.4" y="281.8" class="lb" font-size="13.00">Solution</text><text x="69.0" y="407.7" class="lb" font-size="13.00">Liquid Filled</text><text x="67.3" y="423.6" class="lb" font-size="13.00">Capsules</text><text x="308.7" y="408.8" class="lb" font-size="13.00">Ingredient</text><text x="308.5" y="424.8" class="lb" font-size="13.00">Solution</text>
<rect x="465.2" y="317.2" width="595.7" height="104.3" rx="2.5" fill="#fff" stroke="#b8bcc6" stroke-width="4"/>
<text x="764.5" y="350.7" class="bx">Liquid filled capsules are absorbed</text><text x="764.5" y="373.6" class="bx">in the body without break down stages. Active ingredients</text><text x="764.5" y="397.7" class="bx">in liquid form are absorbed faster than in solid form.</text>
</svg>
</body></html>
